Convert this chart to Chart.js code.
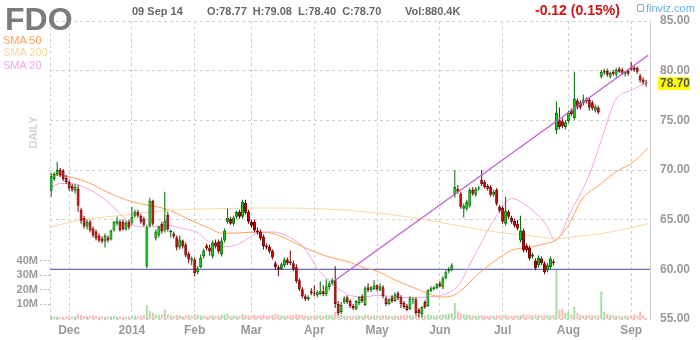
<!DOCTYPE html>
<html>
<head>
<meta charset="utf-8">
<script src="https://cdn.jsdelivr.net/npm/chart.js@4.4.1/dist/chart.umd.min.js"></script>
<style>
  body { margin: 0; background: #fff; }
  #wrap { position: relative; width: 700px; height: 340px; font-family: Arial, "Liberation Sans", sans-serif; }
  #wrap canvas { position: absolute; left: 0; top: 0; }
  .t { position: absolute; white-space: nowrap; line-height: 1; }
  .b { font-weight: bold; }
</style>
</head>
<body>
<div id="wrap">
  <canvas id="chart" width="700" height="340"></canvas>
  <div class="t b" style="left:5px;top:3px;font-size:32px;color:#7b7b7b">FDO</div>
  <div class="t" style="left:3px;top:35px;font-size:11px;color:#ffa25e">SMA 50</div>
  <div class="t" style="left:3px;top:47px;font-size:11px;color:#f5d7a2">SMA 200</div>
  <div class="t" style="left:3px;top:60px;font-size:11px;color:#f2a8e6">SMA 20</div>
  <div class="t b" style="left:17px;top:127px;font-size:11px;color:#d4d4d4;transform:rotate(-90deg)">DAILY</div>
  <div class="t b" style="left:132px;top:5.5px;font-size:11px;color:#666">09 Sep 14</div>
  <div class="t b" style="left:207px;top:5.5px;font-size:11px;color:#666">O:78.77&nbsp;&nbsp;H:79.08&nbsp;&nbsp;L:78.40&nbsp;&nbsp;C:78.70</div>
  <div class="t b" style="left:405px;top:5.5px;font-size:11px;color:#666">Vol:880.4K</div>
  <div class="t b" style="left:535px;top:3px;font-size:14px;color:#d01515">-0.12 (0.15%)</div>
  <div class="t" style="left:637px;top:4px;width:5px;height:6px;border:1px solid #6aaee0;border-radius:2px"></div>
  <div class="t" style="left:646px;top:3px;font-size:11px;color:#6aaee0">finviz.com</div>
</div>
<script>
// trading day index 0 = 21 Nov 2013, 199 = 09 Sep 2014
const opens = [
  67.9, 69.1, 69.6, 70.0, 69.9, 69.2, 68.8, 68.4, 67.9, 68.1,
  66.0, 65.2, 64.3, 64.8, 64.1, 63.8, 63.4, 63.1, 62.8, 63.2,
  63.0, 63.9, 64.6, 64.8, 64.8, 64.0, 64.8, 64.7, 65.4, 65.8,
  65.4, 65.1, 60.3, 64.4, 66.9, 63.1, 63.4, 64.6, 63.9, 65.5,
  63.7, 63.6, 63.2, 62.2, 62.9, 62.5, 61.6, 60.9, 61.0, 59.7,
  60.2, 61.3, 62.4, 62.2, 61.3, 62.7, 62.8, 61.5, 62.9, 64.8,
  65.1, 64.6, 65.3, 65.8, 65.3, 66.7, 65.8, 64.8, 64.8, 63.9,
  63.8, 63.3, 62.4, 62.3, 61.9, 60.6, 60.2, 60.0, 60.4, 61.0,
  60.8, 60.6, 60.2, 58.9, 58.0, 57.3, 57.0, 57.8, 57.6, 57.4,
  57.5, 57.8, 57.5, 58.2, 58.6, 58.9, 56.5, 55.7, 56.7, 57.2,
  56.8, 56.3, 56.0, 56.6, 57.3, 56.4, 58.2, 57.9, 58.0, 58.4,
  57.9, 58.2, 57.1, 56.5, 57.2, 56.8, 57.6, 57.2, 56.6, 56.3,
  56.0, 56.9, 57.0, 55.9, 55.5, 56.7, 56.3, 57.8, 58.0, 58.1,
  58.6, 58.2, 59.1, 59.8, 59.9, 67.5, 68.1, 67.6, 66.1, 66.1,
  66.4, 68.0, 67.5, 68.1, 69.0, 68.8, 68.4, 68.3, 67.5, 68.0,
  66.3, 66.2, 64.6, 65.8, 65.2, 64.9, 64.6, 62.9, 63.9, 62.4,
  62.2, 61.3, 60.9, 60.4, 61.1, 60.6, 59.9, 60.2, 60.8, 74.0,
  75.0, 74.9, 74.3, 74.9, 76.0, 75.2, 77.0, 76.8, 76.7, 77.1,
  77.1, 76.8, 76.0, 76.3, 79.4, 79.8, 80.0, 79.4, 79.9, 79.6,
  80.2, 80.1, 79.7, 80.0, 80.4, 80.3, 80.3, 79.5, 79.1, 78.77
];
const highs = [
  69.7, 69.8, 70.8, 70.2, 70.1, 69.5, 69.0, 68.6, 68.6, 68.5,
  66.2, 65.4, 65.0, 65.0, 64.3, 64.0, 63.6, 63.3, 63.6, 63.4,
  64.0, 64.9, 65.3, 65.0, 65.0, 64.9, 65.0, 66.3, 66.0, 66.0,
  65.6, 65.3, 64.5, 67.2, 67.0, 64.0, 64.4, 64.8, 67.8, 65.8,
  64.0, 63.8, 63.4, 63.4, 63.0, 62.7, 61.8, 61.3, 61.2, 60.3,
  61.5, 62.1, 62.6, 62.5, 62.9, 63.0, 63.0, 63.2, 64.1, 66.1,
  65.3, 65.4, 65.9, 66.0, 67.0, 67.0, 66.0, 65.0, 65.0, 64.2,
  64.0, 63.5, 62.6, 62.5, 62.0, 60.8, 60.4, 60.7, 61.2, 61.2,
  61.9, 60.9, 60.5, 59.1, 58.2, 57.5, 57.4, 58.1, 58.4, 57.9,
  58.8, 58.4, 59.0, 58.8, 59.1, 60.3, 56.8, 56.7, 57.3, 57.4,
  57.0, 56.5, 56.9, 57.3, 57.5, 58.3, 58.6, 58.3, 58.9, 58.5,
  58.6, 58.4, 57.3, 57.1, 57.4, 57.7, 57.8, 57.4, 56.8, 56.5,
  57.3, 57.2, 57.2, 56.1, 56.3, 56.9, 58.0, 58.3, 58.3, 58.6,
  58.8, 59.3, 59.9, 60.2, 60.6, 70.0, 68.5, 67.8, 66.6, 67.0,
  68.2, 68.3, 68.3, 68.4, 70.0, 69.0, 68.6, 68.5, 68.0, 68.2,
  66.5, 66.4, 67.3, 66.0, 65.4, 65.1, 65.0, 65.4, 64.1, 62.6,
  62.4, 61.7, 61.1, 61.4, 61.3, 60.8, 60.6, 61.3, 61.0, 76.9,
  76.3, 75.2, 75.0, 76.0, 76.2, 79.9, 77.2, 77.0, 77.6, 77.3,
  77.3, 77.0, 76.6, 76.5, 80.1, 80.2, 80.2, 79.9, 80.1, 80.3,
  80.4, 80.3, 80.0, 80.2, 80.9, 80.5, 80.4, 79.7, 79.3, 79.08
];
const lows = [
  67.3, 68.9, 69.4, 69.3, 68.9, 68.6, 67.9, 67.8, 67.6, 65.8,
  64.6, 64.1, 64.0, 63.7, 63.2, 62.9, 62.7, 62.6, 62.2, 62.7,
  62.9, 63.8, 64.4, 63.8, 63.9, 63.9, 64.0, 64.5, 65.2, 65.2,
  64.6, 64.3, 60.1, 64.2, 64.4, 62.9, 63.2, 63.6, 63.7, 63.8,
  63.2, 63.1, 61.9, 62.0, 62.1, 61.2, 60.6, 60.4, 59.3, 59.5,
  60.1, 61.1, 61.9, 61.4, 61.1, 62.1, 61.6, 61.3, 62.7, 64.6,
  64.5, 64.4, 65.1, 65.1, 65.1, 65.5, 64.6, 64.2, 63.7, 63.5,
  62.9, 62.0, 62.0, 61.6, 61.0, 59.9, 59.3, 59.9, 60.2, 60.4,
  60.4, 59.8, 58.6, 57.8, 57.1, 56.8, 56.8, 57.4, 57.3, 57.2,
  57.4, 57.3, 57.3, 57.9, 58.4, 56.1, 55.4, 55.5, 56.5, 56.5,
  56.1, 55.9, 55.9, 56.4, 56.6, 56.3, 57.7, 57.7, 57.9, 57.8,
  57.8, 57.1, 56.3, 56.4, 56.6, 56.7, 56.9, 56.1, 56.0, 55.8,
  55.9, 56.5, 55.4, 55.2, 55.2, 56.0, 56.2, 57.7, 57.9, 58.0,
  58.2, 58.0, 59.0, 59.6, 59.8, 67.2, 67.6, 66.1, 65.2, 65.9,
  66.2, 67.4, 67.3, 67.9, 68.4, 68.1, 67.9, 67.3, 67.3, 66.4,
  65.7, 64.6, 64.4, 65.1, 64.6, 64.2, 63.9, 62.7, 61.7, 61.7,
  60.9, 61.1, 59.9, 60.2, 60.4, 59.5, 59.7, 60.0, 60.4, 73.6,
  74.1, 74.2, 74.1, 74.7, 75.4, 75.0, 76.1, 76.1, 76.5, 76.7,
  76.0, 76.0, 75.8, 75.6, 79.2, 79.6, 79.4, 79.2, 79.5, 79.3,
  79.8, 79.6, 79.4, 79.5, 80.0, 79.9, 79.7, 78.8, 78.6, 78.40
];
const closes = [
  69.4, 69.6, 70.0, 69.5, 69.1, 68.8, 68.2, 68.0, 68.3, 66.4,
  64.9, 64.3, 64.8, 63.9, 63.4, 63.1, 62.9, 62.8, 63.4, 62.9,
  63.9, 64.8, 64.9, 63.9, 64.0, 64.7, 64.2, 65.3, 65.8, 65.4,
  64.8, 64.5, 64.2, 66.9, 64.6, 63.8, 64.3, 63.8, 64.9, 64.0,
  63.9, 63.3, 62.2, 63.0, 62.3, 61.4, 61.0, 61.1, 59.6, 60.1,
  61.2, 61.9, 62.1, 61.8, 62.7, 62.3, 61.8, 62.9, 63.9, 65.2,
  64.6, 65.2, 65.8, 65.3, 66.8, 65.7, 64.8, 64.4, 63.9, 63.7,
  63.1, 62.3, 62.2, 61.8, 61.2, 60.2, 60.0, 60.5, 61.0, 60.6,
  60.6, 60.0, 58.8, 58.0, 57.3, 57.0, 57.2, 57.6, 57.5, 57.7,
  57.8, 57.5, 58.3, 58.6, 58.9, 56.5, 55.6, 56.4, 57.1, 56.7,
  56.3, 56.1, 56.8, 57.2, 56.8, 58.1, 57.9, 58.2, 58.4, 58.0,
  58.3, 57.3, 56.5, 57.0, 56.8, 57.5, 57.1, 56.5, 56.2, 55.9,
  57.1, 57.0, 55.6, 55.6, 56.2, 56.2, 57.9, 58.1, 58.2, 58.5,
  58.3, 59.1, 59.7, 60.0, 60.4, 68.3, 67.8, 66.3, 66.4, 66.8,
  68.0, 67.6, 68.1, 68.25, 68.6, 68.3, 68.1, 67.5, 67.8, 66.6,
  65.9, 64.8, 65.9, 65.3, 64.8, 64.4, 64.1, 63.9, 61.9, 61.9,
  61.1, 61.5, 60.1, 61.2, 60.6, 59.7, 60.4, 61.1, 60.6, 75.8,
  74.3, 74.4, 74.8, 75.8, 75.6, 77.2, 76.3, 76.3, 77.1, 76.9,
  76.3, 76.2, 76.4, 75.8, 79.9, 80.0, 79.6, 79.8, 79.7, 80.1,
  79.9, 79.8, 79.9, 79.7, 80.1, 80.1, 79.9, 79.0, 78.8, 78.70
];
// volume in millions
const volumes = [
  2.1, 1.6, 1.8, 1.5, 1.4, 1.9, 1.7, 1.6, 2.0, 3.4,
  2.8, 2.2, 1.9, 2.0, 2.4, 2.1, 1.8, 1.7, 1.6, 1.5,
  1.9, 2.1, 1.8, 1.7, 1.6, 1.5, 1.8, 2.0, 2.4, 1.9,
  2.3, 2.9, 9.3, 5.6, 4.4, 3.1, 2.8, 3.3, 6.5, 3.4,
  2.4, 2.2, 2.6, 2.3, 2.0, 2.5, 2.7, 2.2, 3.4, 2.9,
  2.5, 2.2, 2.0, 2.3, 2.6, 2.1, 2.4, 2.7, 3.0, 3.6,
  2.4, 2.2, 2.3, 2.0, 3.2, 2.8, 2.5, 2.6, 2.9, 2.4,
  2.6, 3.1, 2.2, 2.3, 2.8, 3.6, 3.0, 2.4, 2.2, 2.5,
  2.7, 2.6, 3.3, 3.0, 2.8, 2.5, 2.2, 2.3, 2.6, 2.4,
  2.5, 2.3, 2.9, 2.6, 2.8, 5.0, 3.6, 2.9, 2.4, 2.3,
  2.2, 2.0, 2.4, 2.3, 2.1, 2.8, 2.5, 2.2, 2.4, 2.6,
  2.3, 2.7, 2.5, 2.2, 2.0, 2.3, 2.2, 2.4, 2.6, 2.8,
  2.5, 2.3, 3.0, 2.9, 2.6, 2.4, 3.0, 2.7, 2.5, 2.6,
  2.8, 3.0, 3.3, 3.6, 4.0, 11.0, 5.2, 4.0, 3.2, 2.9,
  2.7, 2.5, 2.3, 2.2, 2.6, 2.4, 2.2, 2.5, 2.1, 2.6,
  2.4, 2.8, 3.0, 2.4, 2.2, 2.3, 2.5, 2.8, 3.4, 2.9,
  3.0, 2.6, 3.2, 2.7, 2.5, 2.9, 2.6, 2.4, 2.8, 34.6,
  6.5, 7.2, 4.2, 5.0, 3.2, 8.6, 4.0, 3.0, 2.6, 2.8,
  2.9, 2.5, 2.4, 2.6, 19.0, 5.0, 3.4, 2.8, 2.5, 2.3,
  2.4, 2.1, 2.3, 2.2, 2.6, 3.1, 2.3, 5.2, 2.4, 0.88
];

// moving averages: [day index, price]
const sma50 = [
  [-0.3, 69.57], [6.3, 69.30], [13, 68.66], [18.7, 67.78], [27.3, 66.78], [38.7, 66.04],
  [48, 64.76], [52, 64.26], [57.3, 63.63], [63, 63.66], [68.7, 63.76], [74, 63.63],
  [79.7, 62.92], [85.3, 62.11], [93, 61.24], [99.7, 60.74], [104, 60.23], [109.7, 59.73],
  [115.3, 58.89], [120.7, 58.22], [126.3, 57.55], [130.7, 57.21], [135.3, 57.48], [143, 59.57],
  [148.7, 60.91], [154, 61.91], [159.7, 62.19], [165.3, 62.59], [168.7, 62.92], [173, 64.43],
  [177.3, 66.95], [184, 68.63], [189.7, 69.97], [194, 70.64], [199.7, 72.22]
];
const sma200 = [
  [-0.3, 64.23], [6.3, 64.76], [13, 65.11], [24, 65.44], [33, 65.77], [43, 66.01],
  [57.3, 66.11], [68.7, 66.17], [79.7, 66.17], [88.7, 66.11], [99.7, 65.94], [115.3, 65.44],
  [126.3, 64.93], [137.3, 64.33], [148.7, 63.76], [159.7, 63.42], [168.7, 63.07], [174, 63.25],
  [185.3, 63.66], [199.7, 64.60]
];
const sma20 = [
  [-0.3, 68.29], [3, 68.63], [7.3, 68.63], [10.7, 68.29], [15.3, 67.62], [22, 65.94],
  [27.3, 64.43], [33, 64.26], [38.7, 64.43], [44, 64.10], [49.7, 63.60], [52, 62.92],
  [57.3, 62.25], [63, 62.59], [68.7, 63.60], [74, 63.76], [79.7, 63.25], [85.3, 61.91],
  [88.7, 60.23], [93, 58.89], [98.7, 57.55], [104, 57.21], [109.7, 57.38], [115.3, 57.21],
  [120.7, 57.15], [126.3, 57.21], [132, 57.55], [136.3, 58.39], [139.7, 60.30], [144.3, 62.92],
  [148.7, 65.27], [154, 67.12], [159.7, 66.27], [165.3, 64.60], [168.7, 62.92], [174, 65.94],
  [179.7, 69.30], [184, 72.99], [188.7, 77.02], [194, 78.03], [199.7, 78.86]
];
const trendLine = [[95, 58.9], [199.7, 81.55]];
const supportLevel = 60;

const monthTicks = [6, 27, 48, 67, 88, 109, 130, 151, 173, 194];
const monthLabels = ["Dec", "2014", "Feb", "Mar", "Apr", "May", "Jun", "Jul", "Aug", "Sep"];
const priceTicks = [55, 60, 65, 70, 75, 80, 85];
const volumeTicks = [10, 20, 30, 40];

const days = closes.map((_, i) => i);
const up = days.map(i => closes[i] >= opens[i]);
const xMin = -0.4, xMax = 200.3;

const toPts = arr => arr.map(p => ({ x: p[0], y: p[1] }));
const lineStyle = (color, width) => ({
  type: "line", borderColor: color, borderWidth: width, pointRadius: 0,
  cubicInterpolationMode: "monotone", yAxisID: "y"
});

const lastBox = {
  id: "lastBox",
  afterDraw(c) {
    const last = closes[closes.length - 1];
    const y = c.scales.y.getPixelForValue(last);
    const ctx = c.ctx;
    ctx.save();
    ctx.fillStyle = "#ffff00";
    ctx.fillRect(658, Math.round(y) - 7, 32, 13);
    ctx.fillStyle = "#555";
    ctx.font = "bold 12px Arial, 'Liberation Sans', sans-serif";
    ctx.textBaseline = "middle";
    ctx.fillText(last.toFixed(2), 660, Math.round(y));
    ctx.restore();
  }
};

Chart.defaults.font.family = "Arial, 'Liberation Sans', sans-serif";

new Chart(document.getElementById("chart"), {
  type: "bar",
  data: {
    datasets: [
      {
        label: "Volume", yAxisID: "vol", order: 7, grouped: false, barThickness: 2, inflateAmount: 0,
        data: days.map(i => ({ x: i, y: volumes[i] })),
        backgroundColor: days.map(i => up[i] ? "#a4dfa4" : "#ffb8b8")
      },
      Object.assign(lineStyle("#6e6eb2", 1.2), {
        label: "60", order: 6, data: [{ x: xMin, y: supportLevel }, { x: xMax, y: supportLevel }]
      }),
      Object.assign(lineStyle("#f6d9a4", 1), { label: "SMA 200", order: 5, data: toPts(sma200) }),
      Object.assign(lineStyle("#ffa05c", 1), { label: "SMA 50", order: 5, data: toPts(sma50) }),
      Object.assign(lineStyle("#f2a6e6", 1), { label: "SMA 20", order: 5, data: toPts(sma20) }),
      {
        label: "Range", yAxisID: "y", order: 3, grouped: false, barThickness: 1, inflateAmount: 0,
        data: days.map(i => ({ x: i, y: [lows[i], highs[i]] })),
        backgroundColor: days.map(i => up[i] ? "#006a00" : "#760000")
      },
      {
        label: "Body", yAxisID: "y", order: 2, grouped: false, barThickness: 3, inflateAmount: 0,
        borderWidth: 1, borderSkipped: false,
        data: days.map(i => ({ x: i, y: [opens[i], closes[i]] })),
        backgroundColor: days.map(i => up[i] ? "#12d612" : "#d60000"),
        borderColor: days.map(i => up[i] ? "#006a00" : "#760000")
      },
      Object.assign(lineStyle("#c45ad4", 1.2), { label: "Trend", order: 1, data: toPts(trendLine), cubicInterpolationMode: "default" })
    ]
  },
  options: {
    responsive: false,
    animation: false,
    devicePixelRatio: 1,
    layout: { padding: { top: 21 } },
    plugins: { legend: { display: false }, tooltip: { enabled: false } },
    scales: {
      x: {
        type: "linear", min: xMin, max: xMax, offset: false,
        afterBuildTicks: s => { s.ticks = [xMin, ...monthTicks, xMax].map(v => ({ value: v })); },
        afterFit: s => { s.height = 21; },
        ticks: {
          autoSkip: false, maxRotation: 0, padding: 4, color: "#999",
          font: { size: 12, weight: "bold" },
          callback: v => { const k = monthTicks.indexOf(v); return k < 0 ? "" : monthLabels[k]; }
        },
        grid: { color: "#cfcfcf", drawTicks: false, offset: false },
        border: { display: false, dash: [3, 3] }
      },
      y: {
        position: "right", min: 55, max: 85,
        afterBuildTicks: s => { s.ticks = priceTicks.map(v => ({ value: v })); },
        afterFit: s => { s.width = 50; },
        ticks: { padding: 10, color: "#999", font: { size: 12, weight: "bold" }, callback: v => v.toFixed(2) },
        grid: { color: "#cfcfcf", drawTicks: false },
        border: { display: true, color: "#cfcfcf", dash: [3, 3] }
      },
      vol: {
        position: "left", min: 0, max: 205,
        afterBuildTicks: s => { s.ticks = volumeTicks.map(v => ({ value: v })); },
        afterFit: s => { s.width = 50; },
        ticks: { padding: 2, color: "#999", font: { size: 11, weight: "bold" }, callback: v => v + "M" },
        grid: { drawOnChartArea: false, drawTicks: true, tickLength: 10, tickColor: "#bbb", tickBorderDash: [2, 2] },
        border: { display: false }
      }
    }
  },
  plugins: [lastBox]
});
</script>
</body>
</html>
